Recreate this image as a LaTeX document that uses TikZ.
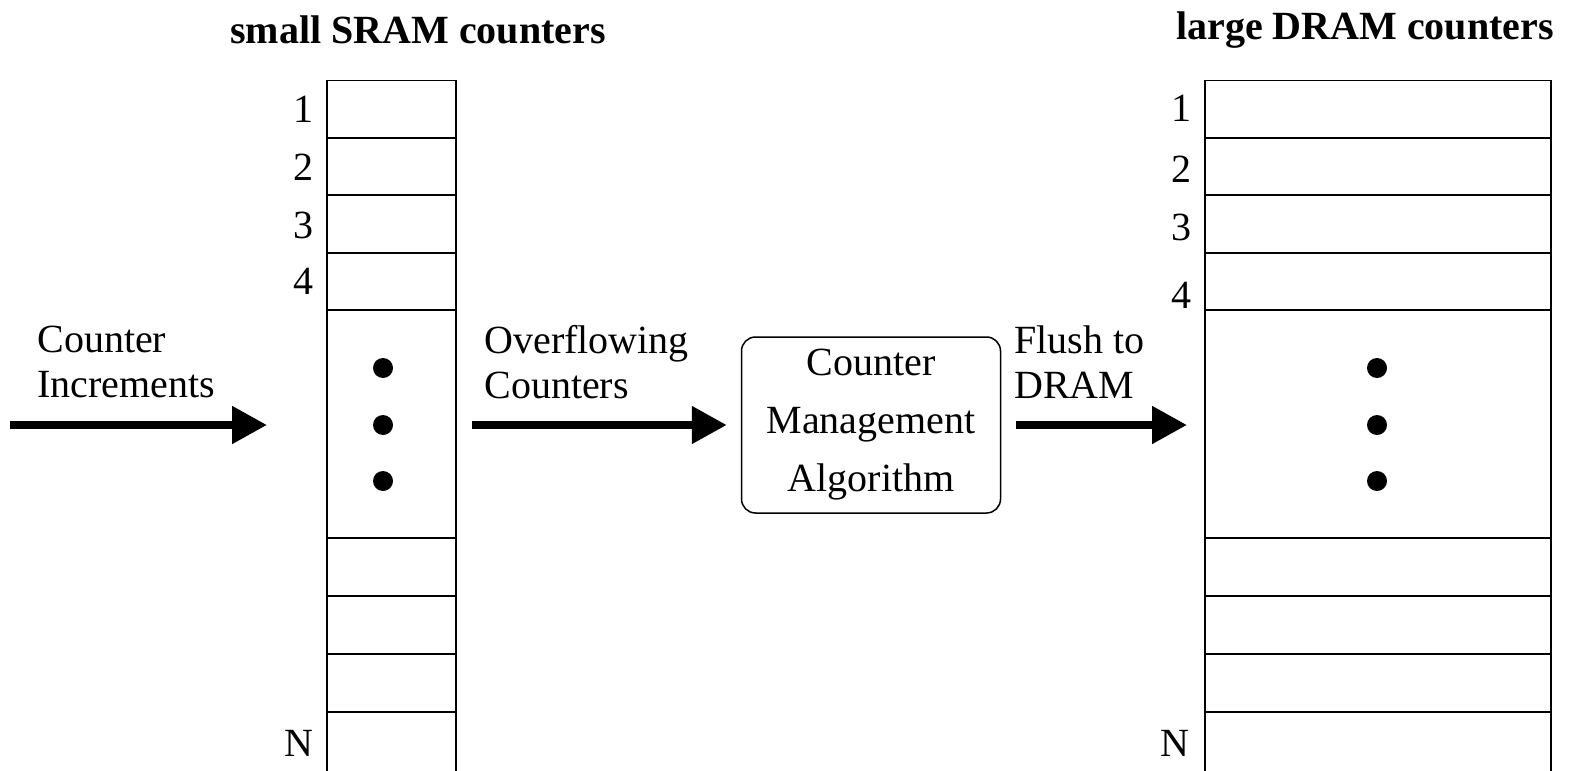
\documentclass[tikz,border=0pt]{standalone}
\usepackage{fontspec}
\setmainfont{Liberation Serif}
\usetikzlibrary{arrows.meta,positioning}

\tikzset{
  cell/.style={draw,line width=.75pt},
  txt/.style={font=\fontsize{20}{22.5}\selectfont,inner sep=0pt},
  idx/.style={txt,anchor=east},
  flow/.style={line width=4pt,-{Triangle[length=17.5pt,width=18pt]}},
}

\begin{document}
\begin{tikzpicture}[x=.5pt,y=-.5pt]
\useasboundingbox (0,0) rectangle (1572,770);

% titles
\node[txt,font=\fontsize{20}{24}\selectfont\bfseries] (ttlS) at (418,30) {small SRAM counters};
\node[txt,font=\fontsize{20}{24}\selectfont\bfseries] (ttlD) at (1365,30) {large DRAM counters};

% counter arrays (run past the bottom edge)
\node[cell,inner sep=0pt,minimum width=64.5pt,minimum height=347pt,anchor=north west] (sram) at (326,80) {};
\node[cell,inner sep=0pt,minimum width=173pt,minimum height=347pt,anchor=north west] (dram) at (1204,80) {};

\foreach \y in {138,195,253,310,538,596,654,712}{
  \draw[cell] (326,\y) -- (455,\y);
  \draw[cell] (1204,\y) -- (1550,\y);
}

\foreach \y in {368,425,481}{
  \fill (383,\y) circle (5pt);
  \fill (1377,\y) circle (5pt);
}

% row numbers
\foreach \n/\y in {1/109,2/167,3/225,4/281}
  \node[idx] (s\n) at (314,\y) {\n};
\node[idx] (sN) at (314,743) {N};
\foreach \n/\y in {1/108,2/169,3/227,4/295}
  \node[idx] (d\n) at (1192,\y) {\n};
\node[idx] (dN) at (1190,743) {N};

% algorithm
\node[cell,txt,rounded corners=7pt,minimum width=129.5pt,minimum height=88pt,
  align=center,font=\fontsize{20}{29}\selectfont] (alg) at (871,425)
  {Counter\\Management\\Algorithm};

% flows
\coordinate (in) at (10,425);
\draw[flow,shorten >=29.5pt] (in) -- (in -| sram.west);
\draw[flow,shorten <=7.5pt,shorten >=7pt] (alg.west -| sram.east) -- (alg.west);
\draw[flow,shorten <=7.5pt,shorten >=8.5pt] (alg.east) -- (alg.east -| dram.west);

\node[txt,align=left,anchor=west] (lIn) at (37,362) {Counter\\Increments};
\node[txt,align=left,anchor=west] (lOv) at (484,362) {Overflowing\\Counters};
\node[txt,align=left,anchor=west] (lFl) at (1014,362) {Flush to\\DRAM};

\end{tikzpicture}
\end{document}
